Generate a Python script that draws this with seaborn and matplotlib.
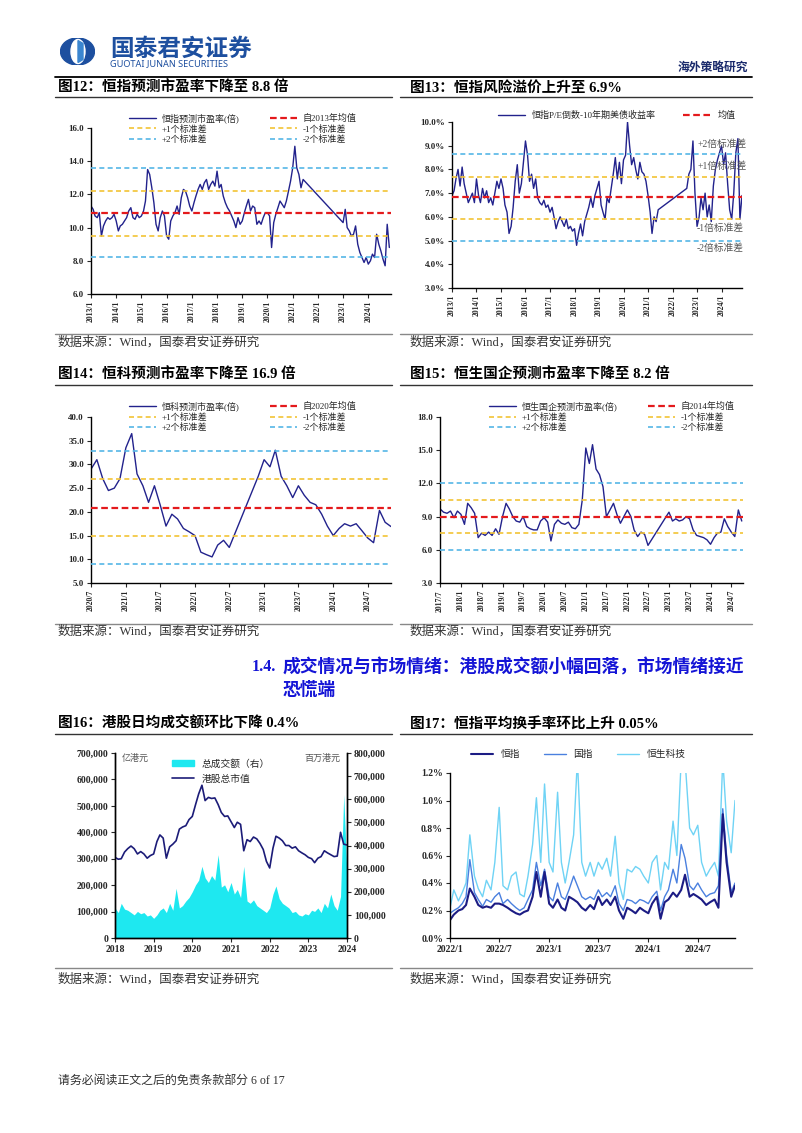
import numpy as np
import pandas as pd
import matplotlib
matplotlib.use("Agg")
import matplotlib.pyplot as plt
import matplotlib.dates as mdates
from matplotlib.lines import Line2D
from matplotlib.patches import Patch, Ellipse, Polygon
from matplotlib.ticker import FuncFormatter, MultipleLocator
import seaborn as sns

nan = np.nan

# ---------------- data (monthly unless noted) ----------------
# fig 12: HSI forward P/E, 2013/1 .. 2024/11
hsi_pe = [11.3, 11.1, 10.7, 10.6, 10.9, 9.5, 10.1, 10.4, 10.6, 10.5, 10.6, 10.8,
          10.4, 9.8, 10.1, 10.2, 10.4, 10.6, 11.0, 11.2, 10.6, 10.5, 10.8, 10.6,
          10.7, 11.0, 11.6, 13.5, 13.2, 12.4, 11.5, 10.2, 9.8, 10.6, 11.0, 10.7,
          9.5, 9.3, 10.4, 10.7, 10.9, 11.3, 10.8, 11.8, 12.3, 12.2, 11.8, 11.3,
          11.0, 11.5, 11.9, 12.3, 12.6, 12.3, 12.7, 12.9, 12.3, 12.6, 12.8, 12.5,
          13.4, 12.4, 12.6, 11.9, 11.5, 11.2, 11.0, 10.7, 10.4, 10.0, 10.6, 10.2,
          10.4, 10.9, 11.3, 11.7, 11.0, 11.3, 11.2, 10.2, 10.4, 10.2, 10.6, 10.9,
          10.9, 10.7, 8.8, 10.3, 10.8, 11.2, 11.6, 11.4, 11.2, 11.6, 12.2, 12.8,
          13.6, 14.9, 13.6, 13.2, 12.4, 12.9, nan, nan, nan, nan, nan, nan,
          nan, nan, nan, nan, nan, nan, nan, nan, nan, nan, nan, nan,
          10.3, 11.1, 10.0, 9.8, 9.5, 9.6, 10.1, 9.0, 8.5, 8.2, 7.9, 8.2,
          7.8, 8.0, 8.4, 8.2, 9.6, 9.0, 8.6, 8.1, 7.7, 10.2, 8.8]
hsi_bands = [10.9, 12.2, 9.5, 13.6, 8.2]          # mean, +1sd, -1sd, +2sd, -2sd

# fig 13: HSI E/P minus US 10y yield (%), 2013/1 .. 2024/11
erp = [6.9, 7.1, 7.6, 8.0, 7.3, 8.1, 7.4, 7.0, 6.6, 6.8, 7.0, 6.6,
       7.6, 6.9, 6.6, 7.2, 6.8, 7.1, 6.6, 6.8, 6.5, 7.0, 7.5, 7.2,
       7.6, 7.2, 6.5, 6.2, 5.3, 5.6, 6.4, 7.5, 8.2, 7.0, 7.4, 8.3,
       9.2, 8.6, 7.5, 7.8, 7.2, 7.6, 6.8, 6.6, 6.5, 6.7, 6.4, 6.5,
       6.2, 6.4, 6.0, 5.5, 5.8, 6.0, 5.8, 5.6, 5.9, 5.5, 5.6, 5.4,
       5.5, 4.8, 5.3, 5.7, 5.2, 5.8, 6.1, 6.4, 6.8, 6.4, 6.9, 7.2,
       7.5, 6.5, 6.2, 5.9, 6.8, 6.6, 7.2, 7.8, 8.5, 7.6, 8.3, 7.4,
       8.4, 8.6, 10.0, 9.0, 8.2, 8.5, 8.0, 7.6, 8.3, 7.9, 7.8, 7.5,
       6.9, 6.2, 5.3, 6.0, 5.8, 6.3, nan, nan, nan, nan, nan, nan,
       nan, nan, nan, nan, nan, nan, nan, 7.2, 7.8, 8.0, 9.2, 7.0,
       5.6, 6.0, 6.8, 6.3, 7.0, 6.0, 6.5, 5.8, 7.3, 8.0, 8.4, 8.7,
       9.0, 8.2, 8.7, 7.4, 6.3, 5.9, 7.0, 8.7, 9.3, 5.9, 6.9]
erp_bands = [6.82, 7.7, 5.9, 8.65, 5.0]
erp_notes = ["+2倍标准差", "+1倍标准差", "-1倍标准差", "-2倍标准差"]
erp_note_y = [9.07, 8.14, 5.53, 4.68]

# fig 14: HSTECH forward P/E, 2020/7 .. 2024/11
hstech_pe = [29.0, 31.0, 27.0, 24.5, 25.0, 27.0,
             33.5, 36.5, 28.0, 25.5, 22.0, 25.5, 21.5, 17.0, 19.5, 18.5, 16.5, 15.8,
             15.0, 11.5, 11.0, 10.5, 13.0, 14.0, 12.5, nan, nan, nan, nan, 27.5,
             31.0, 29.5, 33.0, 27.5, 25.5, 23.0, 25.5, 23.5, 22.0, 21.5, 19.5, 17.0,
             15.0, 16.5, 17.5, 17.0, 17.5, 16.0, 14.5, 13.5, 20.3, 17.8, 16.9]
hstech_bands = [20.9, 26.9, 15.0, 32.9, 9.1]

# fig 15: HSCEI forward P/E, 2017/7 .. 2024/10
hscei_pe = [9.7, 9.4, 9.3, 9.5, 8.9, 9.5,
            9.2, 8.3, 10.2, 9.8, 9.3, 7.1, 7.5, 7.3, 7.6, 7.3, 7.9, 7.4,
            9.0, 10.2, 9.7, 9.0, 8.6, 8.5, 9.0, 8.1, 7.9, 7.8, 7.8, 8.6,
            8.9, 8.5, 6.8, 8.3, 8.7, 8.4, 8.3, 8.5, 8.0, 7.9, 8.3, 10.5,
            15.2, 13.8, 15.5, 13.3, 12.8, 11.7, 9.0, 9.6, 10.2, 9.2, 8.4, 9.0,
            9.6, 9.0, 7.8, 7.2, 7.6, 7.4, 6.4, nan, nan, nan, nan, nan,
            9.4, 8.6, 8.8, 8.6, 8.7, 9.0, 8.8, 7.8, 7.3, 7.2, 7.1, 6.9,
            6.5, 7.1, 7.5, 7.6, 8.8, 8.1, 7.6, 7.2, 9.6, 8.6]
hscei_bands = [9.0, 10.5, 7.5, 12.0, 6.0]

# fig 16: HK market cap (亿港元, left) and turnover (百万港元, right), axis 2018..2024
mkt_cap = [305, 298, 300, 325, 338, 348, 338, 318, 327, 318, 302, 312,
           318, 365, 390, 378, 302, 345, 355, 368, 412, 420, 425, 448,
           460, 505, 545, 578, 520, 532, 528, 530, 505, 475, 460, 462,
           440, 418, 438, 430, 330, 372, 365, 382, 375, 358, 335, 290,
           265, 340, 385, 378, 368, 350, 350, 340, 345, 330, 322, 315,
           305, 300, 285, 302, 308, 330, 322, 315, 308, 310, 400, 355, 352]
turnover = [130, 110, 150, 125, 120, 110, 100, 115, 105, 110, 95, 100,
            85, 100, 120, 130, 110, 150, 120, 215, 130, 140, 160, 175,
            200, 230, 250, 310, 260, 240, 270, 250, 360, 220, 230, 200,
            240, 190, 210, 175, 310, 160, 150, 165, 140, 130, 120, 110,
            130, 190, 225, 170, 150, 140, 130, 110, 115, 100, 95, 105,
            100, 120, 115, 130, 110, 150, 130, 190, 140, 120, 180, 620, 270]

# fig 17: average turnover rate (%), semi-monthly from 2022/1
tr_hstech = [0.22, 0.35, 0.27, 0.33, 0.40, 0.75, 0.45, 0.36, 0.30, 0.42,
             0.35, 0.55, 0.95, 0.38, 0.35, 0.45, 0.48, 0.32, 0.30, 0.45,
             0.68, 1.02, 0.55, 1.12, 0.55, 0.48, 1.06, 0.55, 0.40, 0.55,
             0.75, 1.30, 0.55, 0.45, 0.55, 0.45, 0.55, 0.50, 0.58, 0.45,
             0.74, 0.40, 0.28, 0.50, 0.48, 0.52, 0.50, 0.45, 0.40, 0.55,
             0.60, 0.35, 0.55, 0.50, 0.85, 0.60, 1.30, 1.30, 0.80, 0.75,
             0.82, 0.55, 0.45, 0.50, 0.55, 0.45, 1.30, 0.85, 0.62, 1.00]
tr_hscei = [0.18, 0.20, 0.22, 0.25, 0.30, 0.57, 0.33, 0.28, 0.23, 0.28,
            0.26, 0.30, 0.33, 0.25, 0.28, 0.25, 0.22, 0.20, 0.22, 0.28,
            0.35, 0.55, 0.38, 0.50, 0.30, 0.27, 0.40, 0.30, 0.28, 0.35,
            0.45, 0.38, 0.30, 0.28, 0.30, 0.28, 0.35, 0.30, 0.33, 0.30,
            0.38, 0.25, 0.20, 0.28, 0.27, 0.25, 0.28, 0.27, 0.25, 0.30,
            0.34, 0.20, 0.30, 0.35, 0.50, 0.40, 0.68, 0.58, 0.38, 0.35,
            0.40, 0.35, 0.30, 0.32, 0.33, 0.38, 0.94, 0.60, 0.33, 0.40]
tr_hsi = [0.13, 0.17, 0.20, 0.21, 0.24, 0.36, 0.30, 0.24, 0.22, 0.23,
          0.22, 0.25, 0.25, 0.24, 0.22, 0.20, 0.18, 0.17, 0.19, 0.20,
          0.30, 0.48, 0.30, 0.48, 0.25, 0.22, 0.28, 0.22, 0.20, 0.30,
          0.28, 0.26, 0.22, 0.20, 0.24, 0.21, 0.30, 0.24, 0.28, 0.24,
          0.30, 0.20, 0.14, 0.22, 0.20, 0.18, 0.22, 0.20, 0.18, 0.25,
          0.30, 0.14, 0.26, 0.28, 0.33, 0.30, 0.35, 0.46, 0.30, 0.32,
          0.30, 0.28, 0.24, 0.26, 0.28, 0.22, 0.90, 0.55, 0.30, 0.38]

# ---------------- style ----------------
sns.set_style("ticks")
plt.rcParams['font.family'] = ['Liberation Serif', 'Noto Sans CJK SC']
plt.rcParams['axes.linewidth'] = 1.0
plt.rcParams['axes.edgecolor'] = 'black'

NAVY = '#22228c'
RED = '#e41a1c'
YEL = '#f2c335'
BLU = '#55b6e6'
GREY = '#333333'

W, H = 802, 1133
fig = plt.figure(figsize=(W / 100, H / 100), dpi=100)


def px_axes(x0, y0, x1, y1):
    return fig.add_axes([x0 / W, 1 - y1 / H, (x1 - x0) / W, (y1 - y0) / H])


def ftext(x, y, s, **kw):
    kw.setdefault('va', 'center')
    fig.text(x / W, 1 - y / H, s, **kw)


def hline(x0, x1, y, color=GREY, lw=1.0):
    fig.add_artist(Line2D([x0 / W, x1 / W], [1 - y / H] * 2, color=color, lw=lw))


def ym(x, pos):
    d = mdates.num2date(x)
    return f"{d.year}/{d.month}"


def bold_ticks(ax, size, xsize=None):
    plt.setp(ax.get_yticklabels(), fontweight='bold', fontsize=size)
    plt.setp(ax.get_xticklabels(), fontweight='bold', fontsize=xsize or size)


def pe_chart(ax, start, values, bands, label, mean_label, ylim, ystep, months, xend):
    dates = pd.date_range(start, periods=len(values), freq='MS')
    df = pd.DataFrame({'date': dates, 'pe': values}).dropna()
    sns.lineplot(data=df, x='date', y='pe', ax=ax, color=NAVY, lw=1.0, label=label, zorder=2)
    mean, p1, m1, p2, m2 = bands
    hm = ax.axhline(mean, color=RED, lw=1.6, ls=(0, (3, 1.6)), zorder=3)
    hp1 = ax.axhline(p1, color=YEL, lw=1.2, ls=(0, (3, 2)), zorder=3)
    hm1 = ax.axhline(m1, color=YEL, lw=1.2, ls=(0, (3, 2)), zorder=3)
    hp2 = ax.axhline(p2, color=BLU, lw=1.2, ls=(0, (3, 2)), zorder=3)
    hm2 = ax.axhline(m2, color=BLU, lw=1.2, ls=(0, (3, 2)), zorder=3)
    ax.set_xlim(dates[0], pd.Timestamp(xend))
    ax.set_ylim(*ylim)
    ax.yaxis.set_major_locator(MultipleLocator(ystep))
    ax.yaxis.set_major_formatter(FuncFormatter(lambda v, p: f"{v:.1f}"))
    ax.xaxis.set_major_locator(mdates.MonthLocator(bymonth=months))
    ax.xaxis.set_major_formatter(FuncFormatter(ym))
    ax.tick_params(axis='x', rotation=90, length=3, direction='out', pad=2)
    ax.tick_params(axis='y', length=3, direction='out', pad=2)
    ax.set_xlabel('')
    ax.set_ylabel('')
    sns.despine(ax=ax)
    h0 = ax.get_lines()[0]
    ax.legend([h0, hp1, hp2, hm, hm1, hm2],
              [label, '+1个标准差', '+2个标准差', mean_label, '-1个标准差', '-2个标准差'],
              ncol=2, loc='upper left', frameon=False, fontsize=6.5,
              handlelength=3.0, columnspacing=3.4, labelspacing=0.15,
              handletextpad=0.6, borderaxespad=0)
    bold_ticks(ax, 6.5, 5.6)
    return ax


# ---------------- header ----------------
lax = px_axes(60, 38, 95, 65)
lax.set_xlim(0, 35)
lax.set_ylim(0, 27)
lax.axis('off')
lax.add_patch(Ellipse((17.5, 13.5), 34, 27, color='#1d4f9f'))
lax.add_patch(Ellipse((18, 13.5), 14, 24, color='white'))
lax.add_patch(Polygon([(18, 2.5), (23, 5.5), (23, 21.5), (18, 24.5)], color='#3b86d0'))

ftext(110, 49, "国泰君安证券", fontsize=17, fontweight='bold', color='#1d4f9f',
      family=['Noto Sans CJK SC'])
ftext(110, 64, "GUOTAI JUNAN SECURITIES", fontsize=6.6, color='#1d4f9f',
      family=['Noto Sans'])
ftext(748, 68, "海外策略研究", fontsize=8.5, color='#1a2a6c', ha='right', fontweight='bold')
hline(55, 752, 77, color='black', lw=1.3)

# ---------------- titles / sources ----------------
titles = [(58, 88, "图12：恒指预测市盈率下降至 8.8 倍"),
          (410, 88, "图13：恒指风险溢价上升至 6.9%"),
          (58, 375, "图14：恒科预测市盈率下降至 16.9 倍"),
          (410, 375, "图15：恒生国企预测市盈率下降至 8.2 倍"),
          (58, 724, "图16：港股日均成交额环比下降 0.4%"),
          (410, 724, "图17：恒指平均换手率环比上升 0.05%")]
for x, y, s in titles:
    ftext(x, y, s, fontsize=10.5, fontweight='bold', color='black')
for y in (97, 385, 734):
    hline(55, 392, y, lw=1.0)
    hline(400, 752, y, lw=1.0)
for y_line, y_text in ((334, 342), (624, 631), (968, 979)):
    hline(55, 392, y_line, color='#888888', lw=1.0)
    hline(400, 752, y_line, color='#888888', lw=1.0)
    ftext(58, y_text, "数据来源：Wind，国泰君安证券研究", fontsize=9, color=GREY)
    ftext(410, y_text, "数据来源：Wind，国泰君安证券研究", fontsize=9, color=GREY)

BLUE_H = '#1414d6'
ftext(276, 667, "1.4.", fontsize=11.5, fontweight='bold', color=BLUE_H, ha='right')
ftext(283, 667, "成交情况与市场情绪：港股成交额小幅回落，市场情绪接近", fontsize=12.8,
      fontweight='bold', color=BLUE_H)
ftext(283, 690, "恐慌端", fontsize=12.8, fontweight='bold', color=BLUE_H)
ftext(58, 1081, "请务必阅读正文之后的免责条款部分 6 of 17", fontsize=8.6, color=GREY)

# ---------------- fig 12 ----------------
ax12 = px_axes(91, 128, 391, 294)
pe_chart(ax12, "2013-01-01", hsi_pe, hsi_bands, "恒指预测市盈率(倍)", "自2013年均值",
         (6, 16), 2, [1], "2024-11-25")
ax12.get_legend().set_bbox_to_anchor((0.115, 1.11))

# ---------------- fig 13 ----------------
ax13 = px_axes(452, 122, 742, 288)
dates13 = pd.date_range("2013-01-01", periods=len(erp), freq='MS')
df13 = pd.DataFrame({'date': dates13, 'erp': erp}).dropna()
sns.lineplot(data=df13, x='date', y='erp', ax=ax13, color=NAVY, lw=1.0, zorder=2)
m, p1, m1, p2, m2 = erp_bands
hmean = ax13.axhline(m, color=RED, lw=1.6, ls=(0, (3, 1.6)), zorder=3)
for v, c in ((p1, YEL), (m1, YEL), (p2, BLU), (m2, BLU)):
    ax13.axhline(v, color=c, lw=1.2, ls=(0, (3, 2)), zorder=3)
for s, v in zip(erp_notes, erp_note_y):
    ax13.text(0.845, v, s, transform=ax13.get_yaxis_transform(), fontsize=7,
              color='#555555', va='center')
ax13.set_xlim(dates13[0], dates13[-1])
ax13.set_ylim(3, 10)
ax13.yaxis.set_major_locator(MultipleLocator(1))
ax13.yaxis.set_major_formatter(FuncFormatter(lambda v, p: f"{v:.1f}%"))
ax13.xaxis.set_major_locator(mdates.MonthLocator(bymonth=[1]))
ax13.xaxis.set_major_formatter(FuncFormatter(ym))
ax13.tick_params(axis='x', rotation=90, length=3, pad=2)
ax13.tick_params(axis='y', length=3, pad=2)
ax13.set_xlabel('')
ax13.set_ylabel('')
sns.despine(ax=ax13)
ax13.legend([ax13.get_lines()[0], hmean], ["恒指P/E倒数-10年期美债收益率", "均值"],
            ncol=2, loc='upper left', bbox_to_anchor=(0.145, 1.09), frameon=False,
            fontsize=6.5, handlelength=3.0, columnspacing=3.0, borderaxespad=0)
bold_ticks(ax13, 6.5, 5.6)

# ---------------- fig 14 ----------------
ax14 = px_axes(91, 417, 391, 583)
pe_chart(ax14, "2020-07-01", hstech_pe, hstech_bands, "恒科预测市盈率(倍)", "自2020年均值",
         (5, 40), 5, [1, 7], "2024-11-01")
ax14.get_legend().set_bbox_to_anchor((0.115, 1.115))

# ---------------- fig 15 ----------------
ax15 = px_axes(440, 417, 743, 583)
pe_chart(ax15, "2017-07-01", hscei_pe, hscei_bands, "恒生国企预测市盈率(倍)", "自2014年均值",
         (3, 18), 3, [1, 7], "2024-10-12")
ax15.get_legend().set_bbox_to_anchor((0.15, 1.115))

# ---------------- fig 16 ----------------
ax16 = px_axes(115, 753, 347, 938)
ax16r = ax16.twinx()
dates16 = pd.date_range("2018-01-01", periods=len(mkt_cap), freq='MS')
df16 = pd.DataFrame({'date': dates16,
                     'cap': np.array(mkt_cap) * 1000,
                     'turn': np.array(turnover) * 1000})
ax16r.fill_between(df16['date'], 0, df16['turn'], color='#1ee8f0', lw=0)
sns.lineplot(data=df16, x='date', y='cap', ax=ax16, color='#1c1c78', lw=1.2)
ax16.set_zorder(ax16r.get_zorder() + 1)
ax16.patch.set_visible(False)
ax16.set_xlim(dates16[0], dates16[-1])
ax16.set_ylim(0, 700000)
ax16r.set_ylim(0, 800000)
comma = FuncFormatter(lambda v, p: f"{v:,.0f}")
ax16.yaxis.set_major_locator(MultipleLocator(100000))
ax16r.yaxis.set_major_locator(MultipleLocator(100000))
ax16.yaxis.set_major_formatter(comma)
ax16r.yaxis.set_major_formatter(comma)
ax16.xaxis.set_major_locator(mdates.YearLocator())
ax16.xaxis.set_major_formatter(mdates.DateFormatter('%Y'))
ax16.tick_params(length=3, pad=2)
ax16r.tick_params(length=3, pad=2)
ax16.set_xlabel('')
ax16.set_ylabel('')
ax16r.set_ylabel('')
for a in (ax16, ax16r):
    a.spines['top'].set_visible(False)
ax16.text(0.03, 0.97, "亿港元", transform=ax16.transAxes, fontsize=6.5, color='#555555', va='center')
ax16.text(0.97, 0.97, "百万港元", transform=ax16.transAxes, fontsize=6.5, color='#555555',
          va='center', ha='right')
ax16.legend([Patch(color='#1ee8f0'), Line2D([], [], color='#1c1c78', lw=1.2)],
            ["总成交额（右）", "港股总市值"], loc='upper left', bbox_to_anchor=(0.23, 0.99),
            frameon=False, fontsize=7, handlelength=2.2, labelspacing=0.6, borderaxespad=0)
bold_ticks(ax16, 7)
bold_ticks(ax16r, 7)

# ---------------- fig 17 ----------------
ax17 = px_axes(450, 773, 735, 938)
dates17 = pd.date_range("2022-01-01", periods=len(tr_hsi), freq='SMS')
df17 = pd.DataFrame({'date': dates17, 'hsi': tr_hsi, 'hscei': tr_hscei, 'hstech': tr_hstech})
sns.lineplot(data=df17, x='date', y='hstech', ax=ax17, color='#6fd3f5', lw=1.0)
sns.lineplot(data=df17, x='date', y='hscei', ax=ax17, color='#4a80df', lw=1.0)
sns.lineplot(data=df17, x='date', y='hsi', ax=ax17, color='#1c1c84', lw=1.5)
ax17.set_xlim(dates17[0], dates17[-1])
ax17.set_ylim(0, 1.2)
ax17.yaxis.set_major_locator(MultipleLocator(0.2))
ax17.yaxis.set_major_formatter(FuncFormatter(lambda v, p: f"{v:.1f}%"))
ax17.xaxis.set_major_locator(mdates.MonthLocator(bymonth=[1, 7]))
ax17.xaxis.set_major_formatter(FuncFormatter(ym))
ax17.tick_params(length=3, pad=2)
ax17.set_xlabel('')
ax17.set_ylabel('')
sns.despine(ax=ax17)
l17 = ax17.get_lines()
ax17.legend([l17[2], l17[1], l17[0]], ["恒指", "国指", "恒生科技"], ncol=3,
            loc='center', bbox_to_anchor=(0.45, 1.11), frameon=False, fontsize=7,
            handlelength=2.2, columnspacing=2.5)
bold_ticks(ax17, 7)

fig.savefig("out.png", dpi=100)
